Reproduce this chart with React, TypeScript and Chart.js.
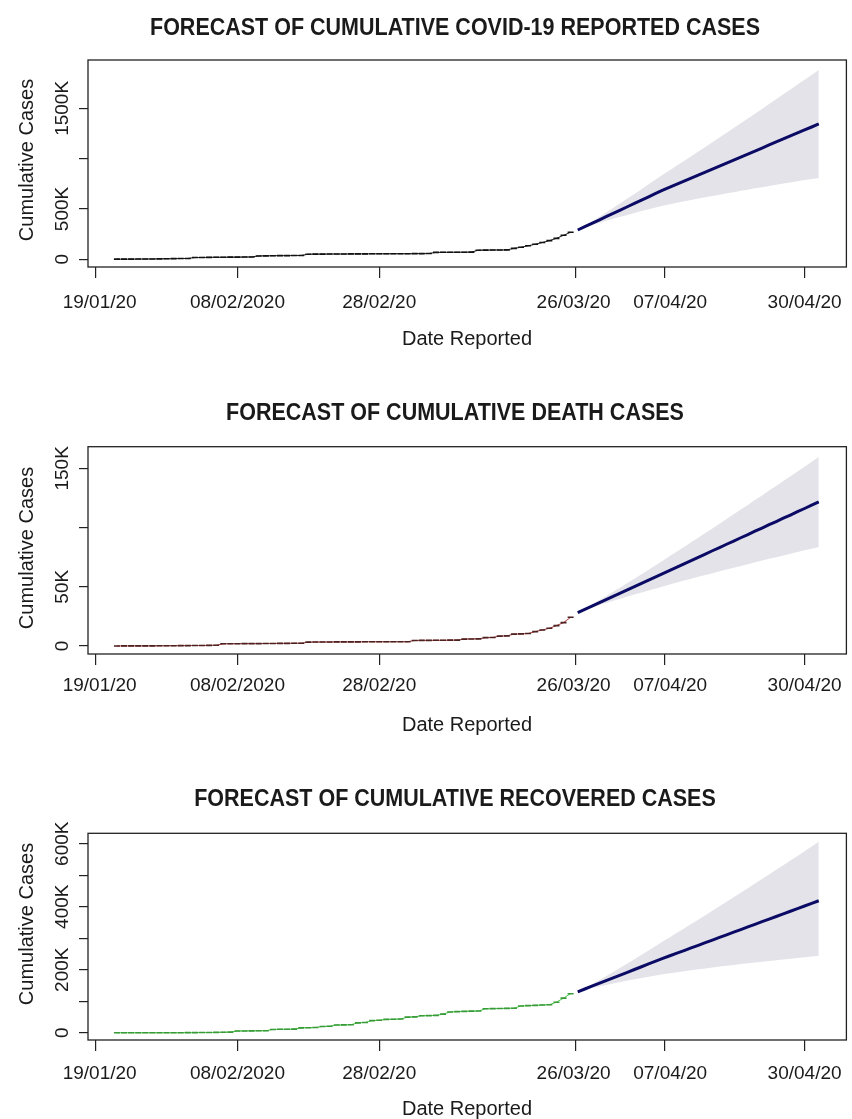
import React, { useEffect, useRef } from 'react';
import { Chart, registerables } from 'chart.js';
Chart.register(...registerables);

// ---- axis data ----
const xTickPos = [0, 20, 40, 67.7, 80.2, 100];
const xTickLabels = ['19/01/20', '08/02/2020', '28/02/20', '26/03/20', '07/04/20', '30/04/20'];
const xLabelShift = [4, 0, 0, -2, 6, 0];
const histStart = 3; // first observed day index (22/01)
const fcStart = 68; // first forecast day index

// ---- reported cases (thousands) ----
const casesHist = [1, 1, 1, 2, 2, 3, 4, 5, 6, 7, 8, 17, 18, 19, 20, 20, 21, 21, 22, 23, 33, 34, 35, 36, 36, 37, 38, 50, 51, 51, 52, 52, 52, 53, 53, 53, 54, 54, 54, 55, 55, 55, 56, 56, 57, 68, 69, 69, 70, 70, 71, 90, 91, 92, 92, 93, 108, 119, 134, 149, 166, 185, 208, 238, 268];
const casesMean = [291, 324, 357, 390, 423, 456, 489, 522, 555, 588, 621, 654, 687, 717, 747, 777, 807, 837, 866, 896, 926, 956, 986, 1016, 1046, 1076, 1106, 1136, 1166, 1196, 1226, 1256, 1286, 1315, 1345];
const casesUpper = [291, 332, 375, 419, 464, 510, 556, 603, 650, 697, 745, 793, 841, 886, 932, 978, 1024, 1071, 1116, 1163, 1210, 1257, 1305, 1352, 1400, 1447, 1495, 1543, 1591, 1640, 1688, 1737, 1785, 1833, 1882];
const casesLower = [291, 316, 339, 361, 382, 402, 422, 441, 460, 479, 497, 515, 533, 548, 562, 576, 590, 603, 616, 629, 642, 655, 667, 680, 692, 705, 717, 729, 741, 752, 764, 775, 787, 797, 808];
const casesYTicks = [0, 500, 1000, 1500];
const casesYLabels = ['0', '500K', '', '1500K'];

// ---- deaths (thousands) ----
const deathsHist = [0.02, 0.03, 0.04, 0.05, 0.06, 0.08, 0.13, 0.17, 0.21, 0.26, 0.3, 0.36, 0.43, 0.49, 0.56, 1.8, 1.9, 1.9, 2.0, 2.0, 2.0, 2.1, 2.1, 2.2, 2.2, 2.3, 2.3, 3.2, 3.3, 3.3, 3.3, 3.4, 3.4, 3.4, 3.4, 3.5, 3.5, 3.5, 3.5, 3.6, 3.6, 3.6, 4.6, 4.7, 4.7, 4.8, 4.8, 4.9, 4.9, 5.8, 5.9, 6.0, 7.0, 7.2, 8.3, 8.5, 10.0, 10.2, 10.5, 12.1, 13.5, 14.9, 17.2, 19.7, 24.2];
const deathsMean = [28.1, 30.9, 33.6, 36.4, 39.1, 41.9, 44.6, 47.4, 50.1, 52.9, 55.6, 58.4, 61.1, 63.9, 66.6, 69.4, 72.1, 74.9, 77.6, 80.4, 83.1, 85.9, 88.6, 91.4, 94.1, 96.9, 99.6, 102.4, 105.1, 107.9, 110.6, 113.4, 116.1, 118.9, 121.6];
const deathsUpper = [28.1, 31.5, 34.9, 38.5, 42.0, 45.7, 49.3, 53.1, 56.8, 60.6, 64.4, 68.2, 72.0, 75.9, 79.7, 83.6, 87.5, 91.4, 95.3, 99.3, 103.2, 107.2, 111.2, 115.2, 119.1, 123.2, 127.1, 131.2, 135.2, 139.3, 143.3, 147.4, 151.4, 155.6, 159.6];
const deathsLower = [28.1, 30.3, 32.3, 34.3, 36.2, 38.1, 39.9, 41.7, 43.4, 45.2, 46.8, 48.6, 50.2, 51.9, 53.5, 55.2, 56.7, 58.4, 59.9, 61.5, 63.0, 64.6, 66.0, 67.6, 69.1, 70.6, 72.1, 73.6, 75.0, 76.5, 77.9, 79.4, 80.8, 82.2, 83.6];
const deathsYTicks = [0, 50, 100, 150];
const deathsYLabels = ['0', '50K', '', '150K'];

// ---- recovered (thousands) ----
const recHist = [0.03, 0.03, 0.04, 0.04, 0.05, 0.06, 0.1, 0.12, 0.13, 0.2, 0.3, 0.5, 0.6, 0.8, 1.1, 1.5, 2.0, 5.5, 5.8, 6.0, 6.2, 6.5, 10.5, 11, 11.2, 11.5, 15.5, 16, 16.5, 20, 20.5, 24.5, 25, 25.5, 31.5, 32.5, 38.5, 39.5, 42.5, 43, 43.5, 49.5, 50.5, 54, 54.5, 55, 59, 66, 67, 68, 68.5, 69, 76, 76.5, 77, 77.5, 78, 85, 86, 87, 88, 89, 97, 110, 124];
const recMean = [130, 138.8, 147.7, 156.5, 165.3, 174.2, 183, 191.8, 200.7, 209.5, 218.3, 227.2, 236, 244.3, 252.6, 260.9, 269.3, 277.6, 285.9, 294.2, 302.5, 310.8, 319.1, 327.4, 335.8, 344.1, 352.4, 360.7, 369, 377.3, 385.6, 393.9, 402.3, 410.6, 419];
const recUpper = [130, 141.5, 153.9, 166.7, 179.6, 193.0, 206.3, 219.9, 233.6, 247.4, 261.3, 275.5, 289.6, 303.3, 317.1, 331.0, 345.0, 359.0, 373.1, 387.3, 401.4, 415.7, 430.0, 444.4, 458.9, 473.3, 487.9, 502.4, 517.1, 531.8, 546.6, 561.3, 576.2, 591.0, 606];
const recLower = [130, 136.3, 141.9, 147.0, 151.9, 156.6, 161.2, 165.5, 169.9, 174.0, 178.0, 182.0, 185.8, 189.1, 192.2, 195.3, 198.5, 201.4, 204.3, 207.1, 209.9, 212.6, 215.3, 217.9, 220.6, 223.2, 225.6, 228.0, 230.4, 232.7, 235.0, 237.3, 239.5, 241.8, 244];
const recYTicks = [0, 100, 200, 300, 400, 500, 600];
const recYLabels = ['0', '', '200K', '', '400K', '', '600K'];

const FONT = '"Liberation Sans", Arial, sans-serif';

type PanelCfg = {
  title: string;
  hist: number[]; mean: number[]; upper: number[]; lower: number[];
  yTicks: number[]; yLabels: string[];
  yMin: number; yMax: number;
  histLine: string; histPoint: string;
  top: number; height: number; boxTop: number; boxBottom: number;
  titleY: number; xLabelY: number; xTitleY: number; yTitleY: number;
};

const panels: PanelCfg[] = [
  {
    title: 'FORECAST OF CUMULATIVE COVID-19 REPORTED CASES',
    hist: casesHist, mean: casesMean, upper: casesUpper, lower: casesLower,
    yTicks: casesYTicks, yLabels: casesYLabels, yMin: -77, yMax: 1981,
    histLine: '#222222', histPoint: '#111111',
    top: 0, height: 373, boxTop: 60, boxBottom: 267,
    titleY: 26.7, xLabelY: 301.5, xTitleY: 337.5, yTitleY: 160,
  },
  {
    title: 'FORECAST OF CUMULATIVE DEATH CASES',
    hist: deathsHist, mean: deathsMean, upper: deathsUpper, lower: deathsLower,
    yTicks: deathsYTicks, yLabels: deathsYLabels, yMin: -6.8, yMax: 168.3,
    histLine: '#b03a3a', histPoint: '#4a2020',
    top: 373, height: 373, boxTop: 446.7, boxBottom: 654,
    titleY: 411.7, xLabelY: 684, xTitleY: 724, yTitleY: 548,
  },
  {
    title: 'FORECAST OF CUMULATIVE RECOVERED CASES',
    hist: recHist, mean: recMean, upper: recUpper, lower: recLower,
    yTicks: recYTicks, yLabels: recYLabels, yMin: -23, yMax: 633,
    histLine: '#44cc44', histPoint: '#3a9a3a',
    top: 746, height: 373, boxTop: 833.3, boxBottom: 1040,
    titleY: 797.5, xLabelY: 1072.5, xTitleY: 1107.5, yTitleY: 924,
  },
];

function Panel({ cfg }: { cfg: PanelCfg }) {
  const ref = useRef<HTMLCanvasElement>(null);
  useEffect(() => {
    const canvas = ref.current!;
    const histPts = cfg.hist.map((v, i) => ({ x: histStart + i, y: v }));
    const meanPts = cfg.mean.map((v, i) => ({ x: fcStart + i, y: v }));
    const upPts = cfg.upper.map((v, i) => ({ x: fcStart + i, y: v }));
    const loPts = cfg.lower.map((v, i) => ({ x: fcStart + i, y: v }));
    const off = cfg.top;

    const textPlugin = {
      id: 'rtext',
      afterDraw(chart: any) {
        const ctx = chart.ctx as CanvasRenderingContext2D;
        const ca = chart.chartArea;
        const xs = chart.scales.x;
        const ys = chart.scales.y;
        ctx.save();
        ctx.strokeStyle = '#222';
        ctx.lineWidth = 1.3;
        ctx.strokeRect(ca.left, ca.top, ca.right - ca.left, ca.bottom - ca.top);
        ctx.fillStyle = '#1a1a1a';
        ctx.textAlign = 'center';
        ctx.textBaseline = 'alphabetic';
        // title, slightly stretched vertically like the reference
        ctx.save();
        ctx.translate(455, cfg.titleY - off + 8.3);
        ctx.scale(1, 1.08);
        ctx.font = 'bold 21.5px ' + FONT;
        ctx.fillText(cfg.title, 0, 0);
        ctx.restore();
        ctx.font = '19px ' + FONT;
        xTickPos.forEach((p, i) => {
          ctx.fillText(xTickLabels[i], xs.getPixelForValue(p) + xLabelShift[i], cfg.xLabelY - off + 6.8);
        });
        cfg.yTicks.forEach((v, i) => {
          const lab = cfg.yLabels[i];
          if (!lab) return;
          ctx.save();
          ctx.translate(68, ys.getPixelForValue(v));
          ctx.rotate(-Math.PI / 2);
          ctx.fillText(lab, 0, 0);
          ctx.restore();
        });
        ctx.font = '20px ' + FONT;
        ctx.fillText('Date Reported', 467, cfg.xTitleY - off + 7.2);
        ctx.save();
        ctx.translate(33, cfg.yTitleY - off);
        ctx.rotate(-Math.PI / 2);
        ctx.fillText('Cumulative Cases', 0, 0);
        ctx.restore();
        ctx.restore();
      },
    };

    const chart = new Chart(canvas, {
      type: 'line',
      data: {
        datasets: [
          {
            data: meanPts, borderColor: '#0b0b66', borderWidth: 3, pointRadius: 0, fill: false, tension: 0,
          },
          {
            data: histPts, borderColor: cfg.histLine, borderWidth: 1, pointStyle: 'line', pointRadius: 3,
            pointBorderWidth: 1.6, pointBorderColor: cfg.histPoint, pointBackgroundColor: cfg.histPoint, fill: false, tension: 0,
          },
          {
            data: loPts, borderWidth: 0, pointRadius: 0, fill: false, borderColor: 'rgba(0,0,0,0)',
          },
          {
            data: upPts, borderWidth: 0, pointRadius: 0, fill: '-1', borderColor: 'rgba(0,0,0,0)', backgroundColor: '#e3e3e9',
          },
        ] as any,
      },
      options: {
        responsive: false,
        maintainAspectRatio: false,
        animation: false,
        devicePixelRatio: 1,
        layout: { padding: { left: 0, right: 2, top: cfg.boxTop - cfg.top, bottom: 0 } },
        plugins: { legend: { display: false }, tooltip: { enabled: false }, title: { display: false } },
        scales: {
          x: {
            type: 'linear', min: -1.08, max: 105.9,
            afterBuildTicks: (s: any) => { s.ticks = xTickPos.map((v) => ({ value: v })); },
            afterFit: (s: any) => { s.height = cfg.top + cfg.height - cfg.boxBottom; },
            ticks: { display: false },
            grid: { drawOnChartArea: false, drawTicks: true, tickLength: 11, color: '#222', lineWidth: 1.2 },
            border: { display: false },
          },
          y: {
            type: 'linear', min: cfg.yMin, max: cfg.yMax,
            afterBuildTicks: (s: any) => { s.ticks = cfg.yTicks.map((v) => ({ value: v })); },
            afterFit: (s: any) => { s.width = 88; },
            ticks: { display: false },
            grid: { drawOnChartArea: false, drawTicks: true, tickLength: 9, color: '#222', lineWidth: 1.2 },
            border: { display: false },
          },
        },
      } as any,
      plugins: [textPlugin],
    });
    return () => chart.destroy();
  }, [cfg]);
  return (
    <canvas
      ref={ref}
      width={852}
      height={cfg.height}
      style={{ position: 'absolute', left: 0, top: cfg.top, width: 852, height: cfg.height }}
    />
  );
}

export default function App() {
  return (
    <div style={{ position: 'absolute', left: 0, top: 0, width: 852, height: 1119, background: '#fff' }}>
      {panels.map((p, i) => (
        <Panel key={i} cfg={p} />
      ))}
    </div>
  );
}
